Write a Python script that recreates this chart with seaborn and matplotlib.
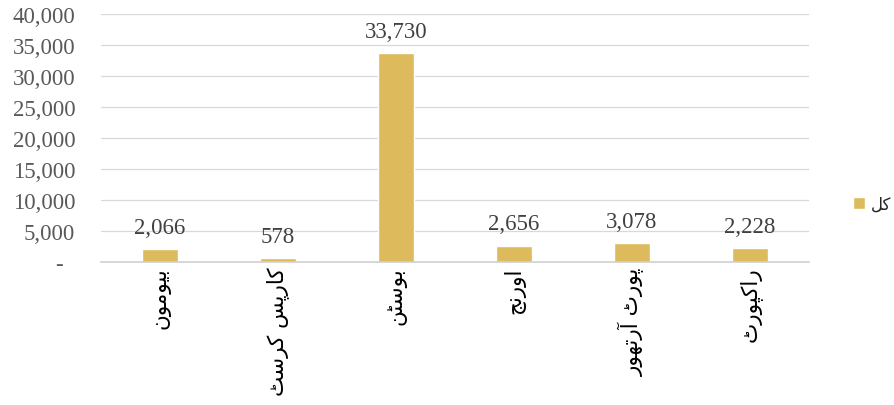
import matplotlib
matplotlib.use("Agg")
import matplotlib.pyplot as plt
import seaborn as sns
import pandas as pd
from matplotlib.ticker import FuncFormatter, MultipleLocator

# ---- data ----
categories = ["بیومون", "کارپس کرسٹ", "بوسٹن", "اورنج", "پورٹ آرتھور", "راکپورٹ"]
values = [2066, 578, 33730, 2656, 3078, 2228]
series_name = "کل"
y_ticks_step = 5000
y_max = 40000

# ---- minimal Arabic-script shaping (presentation forms), then visual order ----
FORMS = {
    'ا': ('\uFE8D', '\uFE8E', None, None),
    'آ': ('\uFE81', '\uFE82', None, None),
    'ب': ('\uFE8F', '\uFE90', '\uFE91', '\uFE92'),
    'ت': ('\uFE95', '\uFE96', '\uFE97', '\uFE98'),
    'ج': ('\uFE9D', '\uFE9E', '\uFE9F', '\uFEA0'),
    'ر': ('\uFEAD', '\uFEAE', None, None),
    'س': ('\uFEB1', '\uFEB2', '\uFEB3', '\uFEB4'),
    'ل': ('\uFEDD', '\uFEDE', '\uFEDF', '\uFEE0'),
    'م': ('\uFEE1', '\uFEE2', '\uFEE3', '\uFEE4'),
    'ن': ('\uFEE5', '\uFEE6', '\uFEE7', '\uFEE8'),
    'و': ('\uFEED', '\uFEEE', None, None),
    'پ': ('\uFB56', '\uFB57', '\uFB58', '\uFB59'),
    'ٹ': ('\uFB66', '\uFB67', '\uFB68', '\uFB69'),
    'ک': ('\uFB8E', '\uFB8F', '\uFB90', '\uFB91'),
    'ھ': ('\uFBAA', '\uFBAB', '\uFBAC', '\uFBAD'),
    'ی': ('\uFBFC', '\uFBFD', '\uFBFE', '\uFBFF'),
}


def shape(s):
    out = []
    n = len(s)
    for i, ch in enumerate(s):
        f = FORMS.get(ch)
        if f is None:
            out.append(ch)
            continue
        prev = s[i - 1] if i > 0 else None
        nxt = s[i + 1] if i < n - 1 else None
        jp = prev in FORMS and FORMS[prev][2] is not None
        jn = f[2] is not None and nxt in FORMS
        if jp and jn:
            out.append(f[3])
        elif jp:
            out.append(f[1])
        elif jn:
            out.append(f[2])
        else:
            out.append(f[0])
    return ''.join(reversed(out))


df = pd.DataFrame({
    "cat": [shape(c) for c in categories],
    "val": values,
    "series": [shape(series_name)] * len(values),
})

sns.set_theme(style="white")
plt.rcParams['font.family'] = ['Liberation Serif', 'DejaVu Sans']

bar_color = "#DDBB5C"
fig = plt.figure(figsize=(8.95, 4.06), dpi=100)
ax = fig.add_axes([101 / 895, 143 / 406, 708 / 895, 248 / 406])

sns.barplot(data=df, x="cat", y="val", hue="series", palette=[bar_color],
            width=0.31, dodge=False, ax=ax, saturation=1)

ax.set_ylim(0, y_max)
ax.yaxis.set_major_locator(MultipleLocator(y_ticks_step))
ax.yaxis.set_major_formatter(FuncFormatter(lambda v, p: "-  " if v == 0 else f"{v:,.0f}"))
ax.grid(axis="y", color="#D9D9D9", linewidth=0.9)
ax.set_axisbelow(True)
for s in ["top", "left", "right"]:
    ax.spines[s].set_visible(False)
ax.spines["bottom"].set_color("#D0D0D0")
ax.spines["bottom"].set_linewidth(1.2)
ax.set_xlabel("")
ax.set_ylabel("")
ax.tick_params(axis="y", length=0, pad=18.5, labelsize=16.5, labelcolor="#595959")
ax.tick_params(axis="x", length=0, pad=3)
for lab in ax.get_xticklabels():
    lab.set_rotation(90)
    lab.set_fontfamily("DejaVu Sans")
    lab.set_fontsize(15.5)
    lab.set_color("black")

for cont in ax.containers:
    ax.bar_label(cont, labels=[f"{v:,.0f}" for v in values], padding=8,
                 fontsize=16.5, color="#404040")

handles, labels = ax.get_legend_handles_labels()
if ax.get_legend() is not None:
    ax.get_legend().remove()
fig.legend(handles, labels, loc="center left", bbox_to_anchor=(0.953, 0.495),
           frameon=False, handlelength=0.75, handleheight=0.75, handletextpad=0.35,
           prop={"family": "DejaVu Sans", "size": 12}, borderaxespad=0, borderpad=0)

fig.savefig("out.png", dpi=100)
